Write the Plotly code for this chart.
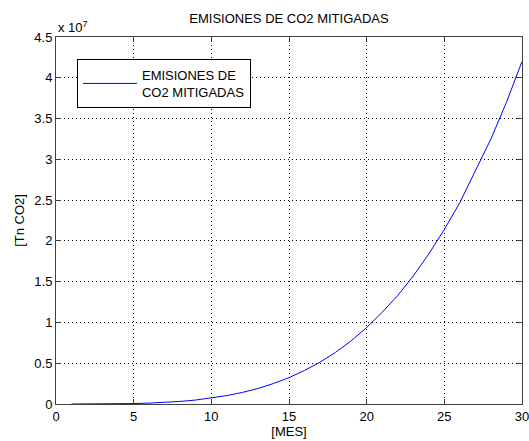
import plotly.graph_objects as go

meses = list(range(1, 31))
emisiones = [0.00001e7, 0.00018e7, 0.00084e7, 0.0024e7, 0.0055e7, 0.0109e7, 0.0193e7,
             0.0316e7, 0.0488e7, 0.072e7, 0.103e7, 0.142e7, 0.19e7, 0.251e7, 0.323e7,
             0.411e7, 0.513e7, 0.634e7, 0.774e7, 0.938e7, 1.125e7, 1.33e7, 1.57e7,
             1.84e7, 2.14e7, 2.47e7, 2.85e7, 3.25e7, 3.70e7, 4.2e7]

x_ticks = [0, 5, 10, 15, 20, 25, 30]
y_tickvals = [0, 0.5e7, 1e7, 1.5e7, 2e7, 2.5e7, 3e7, 3.5e7, 4e7, 4.5e7]
y_ticktext = ["0", "0.5", "1", "1.5", "2", "2.5", "3", "3.5", "4", "4.5"]

font = dict(family="Liberation Sans, Arial, sans-serif", size=13, color="black")

fig = go.Figure()
fig.add_trace(go.Scatter(x=meses, y=emisiones, mode="lines",
                         line=dict(color="#0000ff", width=1),
                         name="EMISIONES DE<br>CO2 MITIGADAS"))

axis_common = dict(showline=True, linecolor="#404040", linewidth=1, mirror="allticks",
                   ticks="inside", ticklen=5, tickcolor="#404040",
                   showgrid=True, gridcolor="black", griddash="1px,3px", gridwidth=1,
                   zeroline=False, tickfont=font, ticklabeloverflow="allow")

fig.update_layout(
    width=529, height=441,
    margin=dict(l=56, r=7, t=37, b=37, autoexpand=False),
    paper_bgcolor="white", plot_bgcolor="white",
    font=font,
    title=dict(text="EMISIONES DE CO2 MITIGADAS", x=0.5463, xanchor="center",
               y=0.958, yanchor="middle", font=font),
    xaxis=dict(range=[0, 30], tickvals=x_ticks,
               title=dict(text="[MES]", standoff=0, font=font), **axis_common),
    yaxis=dict(range=[0, 4.5e7], tickvals=y_tickvals, ticktext=y_ticktext,
               title=dict(text="[Tn CO2]", standoff=6, font=font), **axis_common),
    showlegend=True,
    legend=dict(x=0.045, y=0.94, xanchor="left", yanchor="top",
                bordercolor="black", borderwidth=1, bgcolor="white",
                font=font, itemwidth=54, tracegroupgap=0),
    annotations=[dict(text="x 10<sup>7</sup>", xref="paper", yref="paper",
                      x=0.0, y=1.0, xanchor="left", yanchor="bottom",
                      showarrow=False, font=font)],
)

fig.write_html("out.html")
